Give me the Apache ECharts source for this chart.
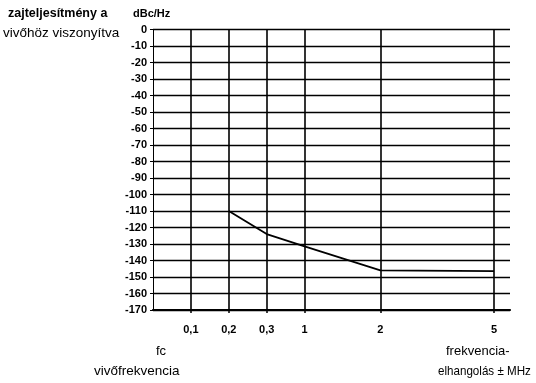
<!DOCTYPE html>
<html>
<head>
<meta charset="utf-8">
<script src="https://cdn.jsdelivr.net/npm/echarts@6/dist/echarts.min.js"></script>
<style>
html,body{margin:0;padding:0;background:#fff;}
#chart{width:536px;height:383px;}
</style>
</head>
<body>
<div id="chart"></div>
<script>
// X positions (ordinal slots) and their tick labels
const xTickPos = [1, 2, 3, 4, 6, 9];
const xTickLabels = ['0,1', '0,2', '0,3', '1', '2', '5'];
// Noise curve: positions and values (dBc/Hz)
const linePos = [2, 3, 4, 6, 9];
const lineValues = [-110, -124, -131.5, -146, -146.5];
// Y axis range
const yMin = -170, yMax = 0, yStep = 10;

const chart = echarts.init(document.getElementById('chart'), null, {renderer: 'canvas'});
const labelMap = {};
xTickPos.forEach((p, i) => labelMap[p] = xTickLabels[i]);

const font = 'Arial, "Liberation Sans", sans-serif';

chart.setOption({
  animation: false,
  backgroundColor: '#fff',
  grid: {left: 153, right: 26, top: 29.5, bottom: 73, containLabel: false},
  xAxis: {
    type: 'value',
    min: 0,
    max: 9.42,
    axisLine: {show: true, onZero: false, lineStyle: {color: '#000', width: 2.2}},
    axisTick: {show: true, customValues: xTickPos, length: 3, lineStyle: {color: '#000', width: 1.5}},
    axisLabel: {
      show: true, customValues: xTickPos, margin: 14,
      formatter: v => labelMap[v] || '',
      color: '#000', fontSize: 11, fontWeight: 'bold', fontFamily: font
    },
    splitLine: {show: false}
  },
  yAxis: {
    type: 'value',
    min: yMin, max: yMax, interval: yStep,
    axisLine: {show: true, lineStyle: {color: '#000', width: 1}},
    axisTick: {show: true, length: 3, lineStyle: {color: '#000', width: 1}},
    axisLabel: {color: '#000', fontSize: 11, fontWeight: 'bold', fontFamily: font, margin: 6},
    splitLine: {show: true, lineStyle: {color: '#000', width: 1.3}}
  },
  series: [{
    type: 'line',
    data: linePos.map((p, i) => [p, lineValues[i]]),
    symbol: 'none',
    lineStyle: {color: '#000', width: 1.8},
    markLine: {
      silent: true,
      symbol: 'none',
      label: {show: false},
      lineStyle: {color: '#000', width: 1.6, type: 'solid'},
      data: xTickPos.map(p => ({xAxis: p}))
    }
  }],
  graphic: [
    {type: 'text', left: 8, top: 7, style: {text: 'zajteljesítmény a', fill: '#000', font: 'bold 12.5px ' + font}},
    {type: 'text', left: 3, top: 26, style: {text: 'vivőhöz viszonyítva', fill: '#000', font: '13.5px ' + font}},
    {type: 'text', left: 133, top: 8, style: {text: 'dBc/Hz', fill: '#000', font: 'bold 11px ' + font}},
    {type: 'text', left: 156, top: 345, style: {text: 'fc', fill: '#000', font: '13px ' + font}},
    {type: 'text', left: 94, top: 364, style: {text: 'vivőfrekvencia', fill: '#000', font: '13.5px ' + font}},
    {type: 'text', left: 446, top: 345, style: {text: 'frekvencia-', fill: '#000', font: '13px ' + font}},
    {type: 'text', x: 438, y: 364, scaleX: 0.86, style: {text: 'elhangolás ± MHz', fill: '#000', font: '13.5px ' + font}}
  ]
});
</script>
</body>
</html>
